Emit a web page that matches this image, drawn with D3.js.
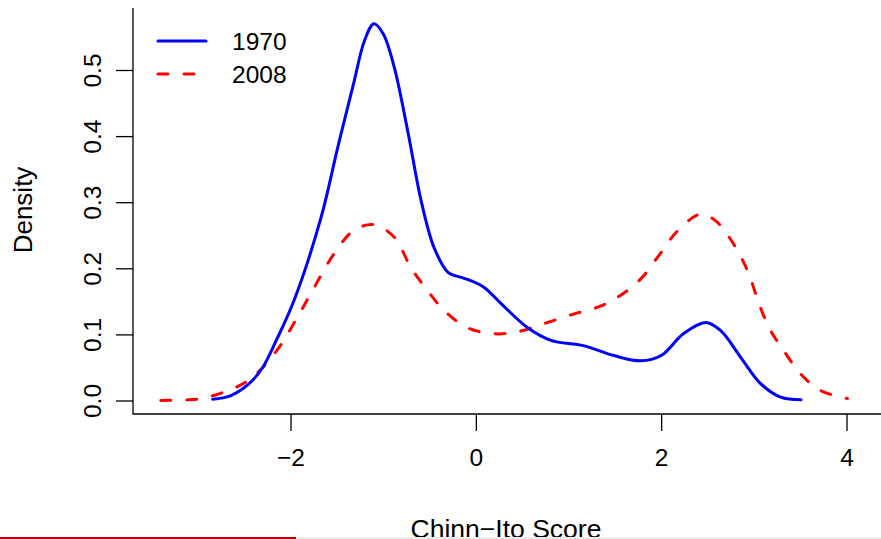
<!DOCTYPE html>
<html lang="en">
<head>
<meta charset="utf-8">
<title>Chinn-Ito density</title>
<style>
  body { margin: 0; background: #fff; }
  svg text { font-family: "Liberation Sans", Arial, Helvetica, sans-serif; fill: #000; }
</style>
</head>
<body>
<svg id="chart" width="881" height="539"></svg>
<script src="https://d3js.org/d3.v7.min.js"></script>
<script>
// density estimates
const x1970 = [-2.84,-2.65,-2.45,-2.30,-2.15,-1.96,-1.67,-1.49,-1.32,-1.20,-1.10,-1.00,-0.88,-0.73,-0.59,-0.45,-0.30,-0.15,-0.05,0.09,0.27,0.56,0.81,1.16,1.49,1.78,2.00,2.24,2.48,2.64,2.86,3.07,3.29,3.51];
const d1970 = [0.002,0.007,0.025,0.050,0.092,0.152,0.277,0.383,0.479,0.545,0.570,0.555,0.504,0.404,0.302,0.231,0.194,0.186,0.181,0.171,0.147,0.110,0.091,0.083,0.068,0.060,0.068,0.101,0.118,0.106,0.065,0.026,0.005,0.001];
const x2008 = [-3.40,-3.10,-2.96,-2.82,-2.62,-2.46,-2.30,-2.10,-1.95,-1.78,-1.53,-1.32,-1.10,-0.88,-0.70,-0.52,-0.34,-0.09,0.20,0.45,0.73,1.06,1.35,1.56,1.78,2.00,2.18,2.43,2.61,2.78,2.93,3.07,3.18,3.32,3.50,3.72,4.01];
const d2008 = [0.000,0.001,0.003,0.008,0.018,0.030,0.050,0.085,0.120,0.162,0.222,0.257,0.266,0.247,0.201,0.166,0.136,0.110,0.101,0.104,0.116,0.131,0.143,0.159,0.184,0.224,0.257,0.282,0.269,0.237,0.197,0.141,0.106,0.076,0.041,0.015,0.003];
const xTicks = [-2, 0, 2, 4];
const yTicks = [0, 0.1, 0.2, 0.3, 0.4, 0.5];
const seriesNames = ["1970", "2008"];

const svg = d3.select("#chart");
const fs = 24.5;

const xScale = d3.scaleLinear().domain([-2, 4]).range([290.5, 846.5]);
const yScale = d3.scaleLinear().domain([0, 0.5]).range([400.5, 70]);

// L-shaped box
const left = 133, bottom = 414;
svg.append("path")
    .attr("d", `M${left},8 V${bottom} H881`)
    .attr("fill", "none").attr("stroke", "#000").attr("stroke-width", 1.3);

// x axis
const xAxis = d3.axisBottom(xScale).tickValues(xTicks)
    .tickSize(17).tickPadding(18)
    .tickFormat(d => d < 0 ? "\u2212" + Math.abs(d) : d);
const gx = svg.append("g").attr("transform", `translate(0,${bottom})`).call(xAxis);
gx.select(".domain").remove();
gx.selectAll(".tick line").attr("stroke", "#000").attr("stroke-width", 1.3);
gx.selectAll(".tick text").attr("font-size", fs).attr("dy", "0.71em")
    .attr("font-family", "Liberation Sans, Arial, sans-serif");

// y axis, labels rotated
const yAxis = d3.axisLeft(yScale).tickValues(yTicks).tickSize(17).tickFormat(d3.format(".1f"));
const gy = svg.append("g").attr("transform", `translate(${left},0)`).call(yAxis);
gy.select(".domain").remove();
gy.selectAll(".tick line").attr("stroke", "#000").attr("stroke-width", 1.3);
gy.selectAll(".tick text")
    .attr("font-size", fs)
    .attr("font-family", "Liberation Sans, Arial, sans-serif")
    .attr("text-anchor", "middle")
    .attr("x", null).attr("dy", null)
    .attr("transform", "translate(-32,0) rotate(-90)");

// axis titles
svg.append("text").attr("x", 506).attr("y", 538).attr("text-anchor", "middle")
    .attr("font-size", 26.5).text("Chinn\u2212Ito Score");
svg.append("text").attr("transform", "translate(32,210) rotate(-90)").attr("text-anchor", "middle")
    .attr("font-size", 26).text("Density");

// curves
const line = d3.line().x(d => xScale(d[0])).y(d => yScale(d[1])).curve(d3.curveCatmullRom.alpha(0.5));
const s1970 = x1970.map((x, i) => [x, d1970[i]]);
const s2008 = x2008.map((x, i) => [x, d2008[i]]);

svg.append("path").datum(s2008).attr("d", line)
    .attr("fill", "none").attr("stroke", "#ff0000").attr("stroke-width", 3)
    .attr("stroke-dasharray", "10,16").attr("stroke-linecap", "round");
svg.append("path").datum(s1970).attr("d", line)
    .attr("fill", "none").attr("stroke", "#0000ff").attr("stroke-width", 3)
    .attr("stroke-linecap", "round");

// legend
const legend = svg.append("g");
const legendStyle = [
  { color: "#0000ff", dash: null, y: 41 },
  { color: "#ff0000", dash: "10,16", y: 74 }
];
seriesNames.forEach((name, i) => {
  const st = legendStyle[i];
  legend.append("line").attr("x1", 158).attr("x2", 206).attr("y1", st.y).attr("y2", st.y)
      .attr("stroke", st.color).attr("stroke-width", 3).attr("stroke-linecap", "round")
      .attr("stroke-dasharray", st.dash);
  legend.append("text").attr("x", 232).attr("y", st.y).attr("dy", "0.36em")
      .attr("font-size", fs).text(name);
});

// strip at the bottom edge of the screenshot
svg.append("rect").attr("x", 296).attr("y", 537).attr("width", 585).attr("height", 2).attr("fill", "#ececec");
svg.append("rect").attr("x", 0).attr("y", 537).attr("width", 296).attr("height", 2).attr("fill", "#b00000");
</script>
</body>
</html>
